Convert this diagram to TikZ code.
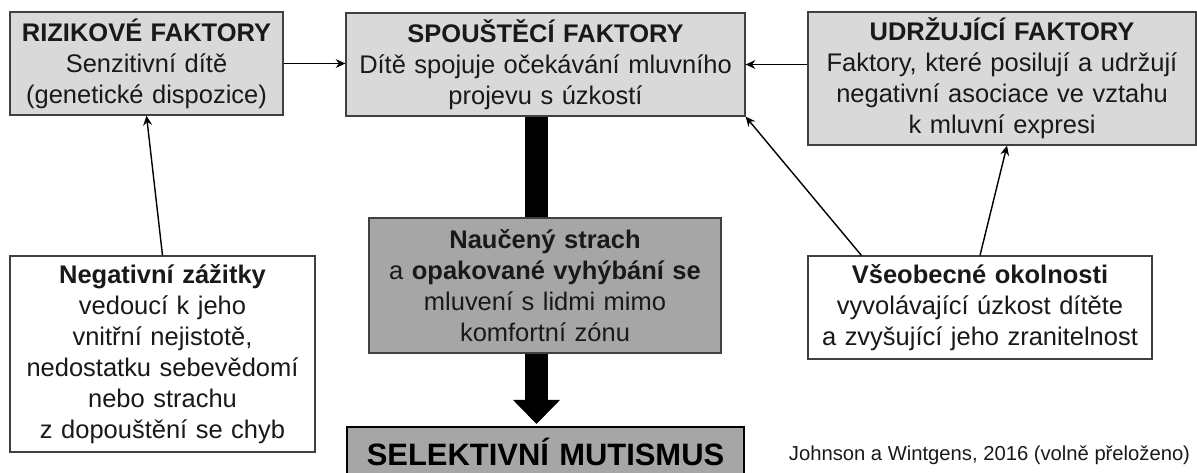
\documentclass[tikz,border=0pt]{standalone}
\usepackage{fontspec}
\setmainfont{Liberation Sans}
\usetikzlibrary{arrows.meta}
\definecolor{sedasvetla}{HTML}{D9D9D9}
\definecolor{sedatmava}{HTML}{A6A6A6}
\tikzset{
  ramec/.style={draw=black!75, line width=0.7pt, align=center, inner sep=0pt,
    text=black!90, font=\fontsize{14.5}{17.6}\selectfont},
  faktor/.style={ramec, fill=sedasvetla},
  okolnost/.style={ramec, fill=white},
  strach/.style={ramec, fill=sedatmava},
  mutismus/.style={draw=black, line width=1.2pt, fill=sedatmava, align=center,
    inner sep=0pt, font=\fontsize{17.6}{21}\selectfont\bfseries},
  sipka/.style={-{Stealth[length=5.5pt,width=5pt]}, line width=0.8pt, black},
  trubka/.style={line width=0.46cm, black}
}
\begin{document}
\begin{tikzpicture}
\useasboundingbox (0,0) rectangle (23.94,-9.44);
\clip (0,0) rectangle (23.94,-9.44);
\node[faktor, text width=5.46cm, minimum height=2.06cm] (riz) at (2.93,-1.27)
  {\textbf{RIZIKOVÉ FAKTORY}\\Senzitivní dítě\\(genetické dispozice)};
\node[faktor, text width=7.98cm, minimum height=2.06cm] (spoust) at (10.91,-1.29)
  {\textbf{SPOUŠTĚCÍ FAKTORY}\\Dítě spojuje očekávání mluvního\\projevu s úzkostí};
\node[faktor, text width=7.76cm, minimum height=2.66cm] (udr) at (20.04,-1.57)
  {\textbf{UDRŽUJÍCÍ FAKTORY}\\Faktory, které posilují a udržují\\negativní asociace ve vztahu\\k mluvní expresi};
\node[okolnost, text width=6.10cm, minimum height=3.92cm] (neg) at (3.25,-7.08)
  {\textbf{Negativní zážitky}\\vedoucí k jeho\\vnitřní nejistotě,\\nedostatku sebevědomí\\nebo strachu\\z dopouštění se chyb};
\node[okolnost, text width=6.88cm, minimum height=2.06cm] (vse) at (19.60,-6.15)
  {\textbf{Všeobecné okolnosti}\\vyvolávající úzkost dítěte\\a zvyšující jeho zranitelnost};
\node[strach, text width=7.04cm, minimum height=2.70cm] (nauc) at (10.90,-5.71)
  {\textbf{Naučený strach}\\a \textbf{opakované vyhýbání se}\\mluvení s lidmi mimo\\komfortní zónu};
\node[mutismus, text width=7.94cm, minimum height=0.98cm] (sel) at (10.91,-9.03)
  {SELEKTIVNÍ MUTISMUS};
\node[anchor=base, text=black!90, font=\fontsize{11.5}{13}\selectfont] (zdroj) at (19.79,-9.20)
  {Johnson a Wintgens, 2016 (volně přeloženo)};
\coordinate (osa) at (10.73,0);
\draw[sipka] (riz.east) -- (riz.east -| spoust.west);
\draw[sipka] (udr.west |- spoust) -- (spoust);
\draw[sipka] (neg.north) -- (riz.south);
\draw[sipka] ([xshift=1.08cm]vse.north west) -- (spoust.south east);
\draw[sipka] (vse.north) -- ([xshift=0.1cm]udr.south);
\draw[trubka] (spoust.south -| osa) -- (nauc.north -| osa);
\draw[trubka, -{Triangle[length=0.48cm 0 0, width=0.94cm 0 0, line width=0pt 0 0]}, shorten >=0.04cm]
  (nauc.south -| osa) -- (sel.north -| osa);
\end{tikzpicture}
\end{document}
